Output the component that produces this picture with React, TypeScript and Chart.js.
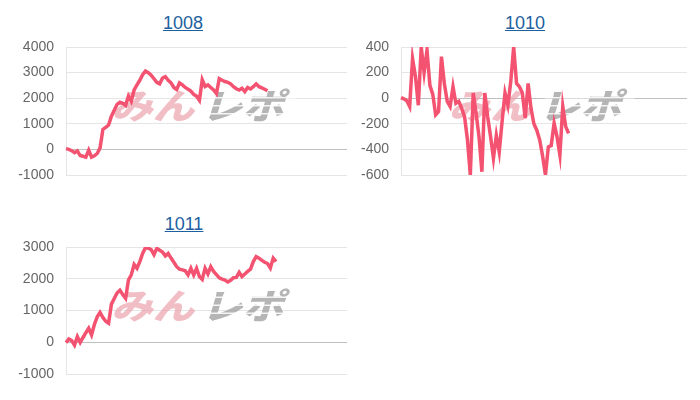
import React, { useEffect, useRef } from "react";
import { Chart, registerables } from "chart.js";

Chart.register(...registerables);

// x slots shared by all three charts (labels are hidden in the reference)
const slotLabels: string[] = Array.from({ length: 100 }, (_, i) => `${i + 1}`);

const titles = ["1008", "1010", "1011"];

const values1008: number[] = [
  30, 0, -50, -130, -60, -240, -270, -300, -30, -300,
  -250, -160, 60, 780, 860, 950, 1300, 1530, 1760, 1840,
  1800, 1720, 2080, 1880, 2320, 2520, 2700, 2920, 3060, 3000,
  2900, 2760, 2620, 2560, 2790, 2840, 2700, 2600, 2420, 2340,
  2600, 2520, 2420, 2350, 2280, 2150, 2080, 1920, 2720, 2460,
  2520, 2420, 2320, 2180, 2760, 2700, 2650, 2620, 2560, 2450,
  2370, 2320, 2390, 2260, 2420, 2360, 2450, 2560, 2450, 2400,
  2350, 2290,
];

const values1010: number[] = [
  5, -5, -20, -65, 310, 170, -55, 400, 200, 375,
  100, 30, -130, -105, 325, 115, -25, -65, 90, -40,
  -25, -80, -145, -325, -600, 40, -120, -300, -575, 40,
  -145, -300, -470, -290, -420, -180, 40, -55, 130, 400,
  115, 90, 40, -155, 115, -80, -200, -250, -325, -450,
  -600, -380, -370, -195, -300, -445, -65, -220, -275,
];

const values1011: number[] = [
  -10, 100, 50, -90, 175, -10, 150, 300, 440, 230,
  560, 800, 940, 780, 660, 600, 1200, 1380, 1550, 1640,
  1500, 1380, 1960, 2120, 2450, 2330, 2540, 2800, 2980, 2960,
  2920, 2760, 2960, 2900, 2840, 2720, 2800, 2650, 2520, 2380,
  2300, 2280, 2250, 2120, 2330, 2120, 2330, 2070, 1980, 2330,
  2150, 2380, 2230, 2130, 2030, 1990, 1960, 1900, 1950, 2030,
  2040, 2200, 2070, 2150, 2230, 2300, 2540, 2700, 2650, 2580,
  2520, 2480, 2340, 2650, 2540,
];

const range1008 = [-1000, 4000, 1000];
const range1010 = [-600, 400, 200];
const range1011 = [-1000, 3000, 1000];

const watermarkPlugin = {
  id: "minrepoWatermark",
  beforeDatasetsDraw(chart: any) {
    const { ctx, chartArea: a } = chart;
    const cx = (a.left + a.right) / 2 - 5;
    const cy = (a.top + a.bottom) / 2 - 5;
    ctx.save();
    ctx.font = "900 35px 'Noto Sans CJK JP'";
    ctx.textBaseline = "middle";
    ctx.translate(cx, cy);
    ctx.transform(1.18, 0, -0.3, 1, 0, 0);
    const t1 = "みん";
    const t2 = "レポ";
    const w1 = ctx.measureText(t1).width;
    const w2 = ctx.measureText(t2).width;
    const gap = 6;
    const total = w1 + gap + w2;
    ctx.fillStyle = "rgba(232,150,162,0.62)";
    ctx.fillText(t1, -total / 2, 0);
    ctx.fillStyle = "rgba(160,160,160,0.78)";
    ctx.fillText(t2, -total / 2 + w1 + gap, 0);
    // speed stripes through the grey part
    ctx.fillStyle = "rgba(255,255,255,0.85)";
    const sx = -total / 2 + w1 + gap;
    for (let k = -1; k <= 1; k++) {
      ctx.fillRect(sx, k * 8 - 1, w2 + 6, 1.6);
    }
    ctx.restore();
  },
};

type BoxProps = {
  title: string;
  values: number[];
  range: number[];
  left: number;
  top: number;
  width: number;
  height: number;
  axisWidth: number;
  padRight: number;
  titleCenter: number;
  titleTop: number;
};

function LineBox(p: BoxProps) {
  const ref = useRef<HTMLCanvasElement | null>(null);
  useEffect(() => {
    if (!ref.current) return;
    const chart = new Chart(ref.current, {
      type: "line",
      data: {
        labels: slotLabels,
        datasets: [
          {
            data: p.values,
            borderColor: "rgb(243, 82, 112)",
            backgroundColor: "rgb(243, 82, 112)",
            borderWidth: 3.5,
            pointRadius: 0,
            pointHoverRadius: 0,
            fill: false,
            tension: 0,
          },
        ],
      },
      options: {
        animation: false,
        responsive: false,
        devicePixelRatio: 1,
        layout: { padding: { top: 0, right: p.padRight, bottom: 0, left: 0 } },
        plugins: { legend: { display: false }, tooltip: { enabled: false } },
        scales: {
          x: { display: false },
          y: {
            min: p.range[0],
            max: p.range[1],
            ticks: {
              stepSize: p.range[2],
              color: "#666",
              padding: 12,
              font: { size: 14, lineHeight: 1, family: "'Liberation Sans', Arial, sans-serif" },
              callback: (v: any) => String(v),
            },
            grid: {
              drawTicks: false,
              color: (c: any) =>
                c.tick && c.tick.value === 0 ? "rgba(0,0,0,0.25)" : "rgba(0,0,0,0.1)",
            },
            border: { color: "rgba(0,0,0,0.1)" },
            afterFit: (s: any) => {
              s.width = p.axisWidth;
            },
          },
        },
      },
      plugins: [watermarkPlugin],
    });
    return () => chart.destroy();
  }, []);
  return (
    <>
      <div
        style={{
          position: "absolute",
          left: p.titleCenter - 100,
          top: p.titleTop,
          width: 200,
          textAlign: "center",
          fontFamily: "'Liberation Sans', Arial, sans-serif",
          fontSize: 18,
          lineHeight: "normal",
        }}
      >
        <a href="#" style={{ color: "#1d5f9f", textDecoration: "underline" }}>
          {p.title}
        </a>
      </div>
      <canvas
        ref={ref}
        width={p.width}
        height={p.height}
        style={{ position: "absolute", left: p.left, top: p.top, width: p.width, height: p.height }}
      />
    </>
  );
}

export default function App() {
  return (
    <div>
      <LineBox
        title={titles[0]}
        values={values1008}
        range={range1008}
        left={8}
        top={28}
        width={342}
        height={166}
        axisWidth={58}
        padRight={3}
        titleCenter={183}
        titleTop={13}
      />
      <LineBox
        title={titles[1]}
        values={values1010}
        range={range1010}
        left={350}
        top={28}
        width={342}
        height={166}
        axisWidth={51}
        padRight={5}
        titleCenter={525}
        titleTop={13}
      />
      <LineBox
        title={titles[2]}
        values={values1011}
        range={range1011}
        left={8}
        top={228}
        width={342}
        height={165}
        axisWidth={58}
        padRight={3}
        titleCenter={184}
        titleTop={214}
      />
    </div>
  );
}
